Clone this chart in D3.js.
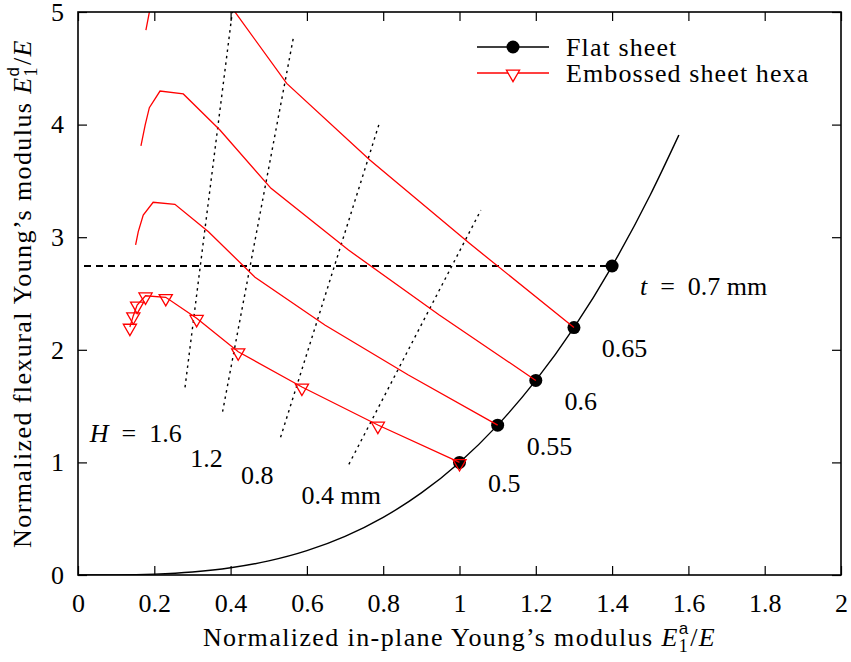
<!DOCTYPE html>
<html>
<head>
<meta charset="utf-8">
<script src="https://cdn.jsdelivr.net/npm/d3@7"></script>
<style>
  body { margin: 0; background: #fff; }
  text { font-family: "Liberation Serif", "DejaVu Serif", serif; }
</style>
</head>
<body>
<div id="chart"></div>
<script>
// flat sheet curve
const flatX = [0, 0.1, 0.2, 0.3, 0.4, 0.5, 0.6, 0.7, 0.8, 0.9, 1.0, 1.1, 1.2, 1.3, 1.4, 1.5, 1.575];
const flatY = [0, 0.001, 0.008, 0.027, 0.064, 0.125, 0.216, 0.343, 0.512, 0.729, 1.0, 1.331, 1.728, 2.197, 2.744, 3.375, 3.907];
// flat sheet points, t = 0.5 ... 0.7 mm
const flatPtX = [1.0, 1.1, 1.2, 1.3, 1.4];
const flatPtY = [1.0, 1.331, 1.728, 2.197, 2.744];

// embossed sheet hexa, one line per thickness
const emb050X = [0.136, 0.145, 0.155, 0.177, 0.230, 0.311, 0.420, 0.587, 0.786, 1.0];
const emb050Y = [2.202, 2.303, 2.398, 2.480, 2.466, 2.280, 1.983, 1.670, 1.332, 1.0];
const emb055X = [0.151, 0.158, 0.171, 0.197, 0.254, 0.342, 0.464, 0.647, 0.866, 1.1];
const emb055Y = [2.931, 3.049, 3.197, 3.310, 3.292, 3.049, 2.644, 2.220, 1.776, 1.331];
const emb060X = [0.165, 0.176, 0.187, 0.215, 0.276, 0.372, 0.506, 0.709, 0.947, 1.2];
const emb060Y = [3.810, 3.996, 4.150, 4.298, 4.272, 3.952, 3.434, 2.886, 2.309, 1.728];
const emb065X = [0.178, 0.190, 0.205, 0.233, 0.299, 0.403, 0.547, 0.765, 1.026, 1.3];
const emb065Y = [4.840, 5.050, 5.300, 5.480, 5.450, 5.040, 4.366, 3.686, 2.946, 2.197];

// constant H lines (dotted)
const hLineX = [[0.2805, 0.4045], [0.379, 0.565], [0.531, 0.789], [0.710, 1.056]];
const hLineY = [[1.667, 5.0], [1.450, 4.78], [1.223, 4.003], [0.983, 3.24]];

// dashed reference at t = 0.7 mm
const refX = [0.016, 1.4];
const refY = [2.744, 2.744];

const xTicks = [0, 0.2, 0.4, 0.6, 0.8, 1, 1.2, 1.4, 1.6, 1.8, 2];
const yTicks = [0, 1, 2, 3, 4, 5];

const hLabels = ["H = 1.6", "1.2", "0.8", "0.4 mm"];
const hLabelX = [0.031, 0.294, 0.427, 0.586];
const hLabelY = [1.181, 0.962, 0.808, 0.631];
const tLabels = ["t = 0.7 mm", "0.65", "0.6", "0.55", "0.5"];
const tLabelX = [1.473, 1.373, 1.275, 1.176, 1.075];
const tLabelY = [2.487, 1.936, 1.465, 1.066, 0.740];

const width = 851, height = 662;
const margin = {top: 12, right: 10, bottom: 87, left: 78};
const fs = 26;

const x = d3.scaleLinear().domain([0, 2]).range([margin.left, width - margin.right]);
const y = d3.scaleLinear().domain([0, 5]).range([height - margin.bottom, margin.top]);

const svg = d3.select("#chart").append("svg")
    .attr("width", width)
    .attr("height", height)
    .style("display", "block");

svg.append("clipPath").attr("id", "plotclip")
  .append("rect")
    .attr("x", x(0)).attr("y", y(5))
    .attr("width", x(2) - x(0)).attr("height", y(0) - y(5));

const zip = (xs, ys) => xs.map((v, i) => [v, ys[i]]);
const line = d3.line().x(d => x(d[0])).y(d => y(d[1]));
const smooth = d3.line().x(d => x(d[0])).y(d => y(d[1])).curve(d3.curveMonotoneX);

// axes with inner ticks on all sides
const tickLen = 9;
svg.append("g")
    .attr("transform", `translate(0,${y(0)})`)
    .call(d3.axisBottom(x).tickValues(xTicks).tickSize(-tickLen).tickPadding(19).tickFormat(d3.format("~g")));
svg.append("g")
    .attr("transform", `translate(0,${y(5)})`)
    .call(d3.axisTop(x).tickValues(xTicks).tickSize(-tickLen).tickFormat(""));
svg.append("g")
    .attr("transform", `translate(${x(0)},0)`)
    .call(d3.axisLeft(y).tickValues(yTicks).tickSize(-tickLen).tickPadding(14).tickFormat(d3.format("d")));
svg.append("g")
    .attr("transform", `translate(${x(2)},0)`)
    .call(d3.axisRight(y).tickValues(yTicks).tickSize(-tickLen).tickFormat(""));

svg.selectAll(".domain").remove();
svg.selectAll(".tick line").attr("stroke", "#000").attr("stroke-width", 1.2);
svg.selectAll(".tick text").attr("font-size", fs).attr("fill", "#000")
    .style("font-family", '"Liberation Serif", serif');

const plot = svg.append("g").attr("clip-path", "url(#plotclip)");

// dashed and dotted guides
plot.append("path")
    .attr("d", line(zip(refX, refY)))
    .attr("fill", "none").attr("stroke", "#000").attr("stroke-width", 1.2)
    .attr("shape-rendering", "crispEdges")
    .attr("stroke-dasharray", "7,5");

plot.selectAll(".hline")
  .data(hLineX.map((xs, i) => zip(xs, hLineY[i])))
  .join("path")
    .attr("class", "hline")
    .attr("d", line)
    .attr("fill", "none").attr("stroke", "#000").attr("stroke-width", 1.4)
    .attr("stroke-dasharray", "2.5,4");

// flat sheet
plot.append("path")
    .attr("d", smooth(zip(flatX, flatY)))
    .attr("fill", "none").attr("stroke", "#000").attr("stroke-width", 1.4);

plot.selectAll(".flatpt")
  .data(zip(flatPtX, flatPtY))
  .join("circle")
    .attr("class", "flatpt")
    .attr("cx", d => x(d[0])).attr("cy", d => y(d[1]))
    .attr("r", 6.5).attr("fill", "#000");

// embossed sheets
const embossed = [zip(emb050X, emb050Y), zip(emb055X, emb055Y), zip(emb060X, emb060Y), zip(emb065X, emb065Y)];
plot.selectAll(".emb")
  .data(embossed)
  .join("path")
    .attr("class", "emb")
    .attr("d", line)
    .attr("fill", "none").attr("stroke", "#ff0000").attr("stroke-width", 1.3);

const tri = d3.symbol().type(d3.symbolTriangle).size(75);
plot.selectAll(".embpt")
  .data(embossed[0])
  .join("path")
    .attr("class", "embpt")
    .attr("d", tri)
    .attr("transform", d => `translate(${x(d[0])},${y(d[1]) + 1}) rotate(180)`)
    .attr("fill", "none").attr("stroke", "#ff0000").attr("stroke-width", 1.3);

// labels
const labelG = svg.append("g").attr("font-size", fs).attr("fill", "#000");

function mathLabel(sel, str) {
  // leading "H" or "t" in italics, wider math spacing round "="
  const m = str.match(/^([Ht]) = (.*)$/);
  if (m) {
    sel.append("tspan").attr("font-style", "italic").text(m[1]);
    sel.append("tspan").text("\u2002=\u2002" + m[2]);
  } else {
    sel.text(str);
  }
}

hLabels.forEach((s, i) => {
  labelG.append("text")
    .attr("x", x(hLabelX[i])).attr("y", y(hLabelY[i]))
    .call(mathLabel, s);
});
tLabels.forEach((s, i) => {
  labelG.append("text")
    .attr("x", x(tLabelX[i])).attr("y", y(tLabelY[i]))
    .call(mathLabel, s);
});

// axis titles
function modulusTitle(sel, text, sup) {
  sel.append("tspan").text(text);
  sel.append("tspan").attr("font-style", "italic").text("E");
  sel.append("tspan").attr("font-size", 18).attr("dy", 6).attr("letter-spacing", 0).text("1");
  sel.append("tspan").attr("font-size", 17).attr("dx", -9).attr("dy", -18).attr("letter-spacing", 0)
      .style("font-family", '"Liberation Sans", sans-serif').text(sup);
  sel.append("tspan").attr("dy", 12).attr("dx", 2).text("/");
  sel.append("tspan").attr("font-style", "italic").text("E");
}

svg.append("text")
    .attr("x", (x(0) + x(2)) / 2).attr("y", 646)
    .attr("text-anchor", "middle").attr("font-size", fs).attr("letter-spacing", 1.4)
    .call(modulusTitle, "Normalized in-plane Young\u2019s modulus ", "a");

svg.append("text")
    .attr("transform", `translate(31,${(y(0) + y(5)) / 2}) rotate(-90)`)
    .attr("text-anchor", "middle").attr("font-size", fs).attr("letter-spacing", 1.4)
    .call(modulusTitle, "Normalized flexural Young\u2019s modulus ", "d");

// legend
const legend = svg.append("g").attr("transform", "translate(477,47)");
const legendRows = [
  {name: "Flat sheet", color: "#000", mark: "dot"},
  {name: "Embossed sheet hexa", color: "#ff0000", mark: "tri"}
];
legendRows.forEach((r, i) => {
  const g = legend.append("g").attr("transform", `translate(0,${i * 26})`);
  g.append("line").attr("x1", 0).attr("x2", 72).attr("y1", 0).attr("y2", 0)
      .attr("stroke", r.color).attr("stroke-width", 1.3);
  if (r.mark === "dot") {
    g.append("circle").attr("cx", 36).attr("cy", 0).attr("r", 6.5).attr("fill", "#000");
  } else {
    g.append("path").attr("d", tri).attr("transform", "translate(36,1) rotate(180)")
        .attr("fill", "#fff").attr("stroke", r.color).attr("stroke-width", 1.3);
  }
  g.append("text").attr("x", 89).attr("y", 9).attr("font-size", fs)
      .attr("letter-spacing", 1.1).text(r.name);
});

// frame
svg.append("rect")
    .attr("x", x(0)).attr("y", y(5))
    .attr("width", x(2) - x(0)).attr("height", y(0) - y(5))
    .attr("fill", "none").attr("stroke", "#000").attr("stroke-width", 1.6);
</script>
</body>
</html>
